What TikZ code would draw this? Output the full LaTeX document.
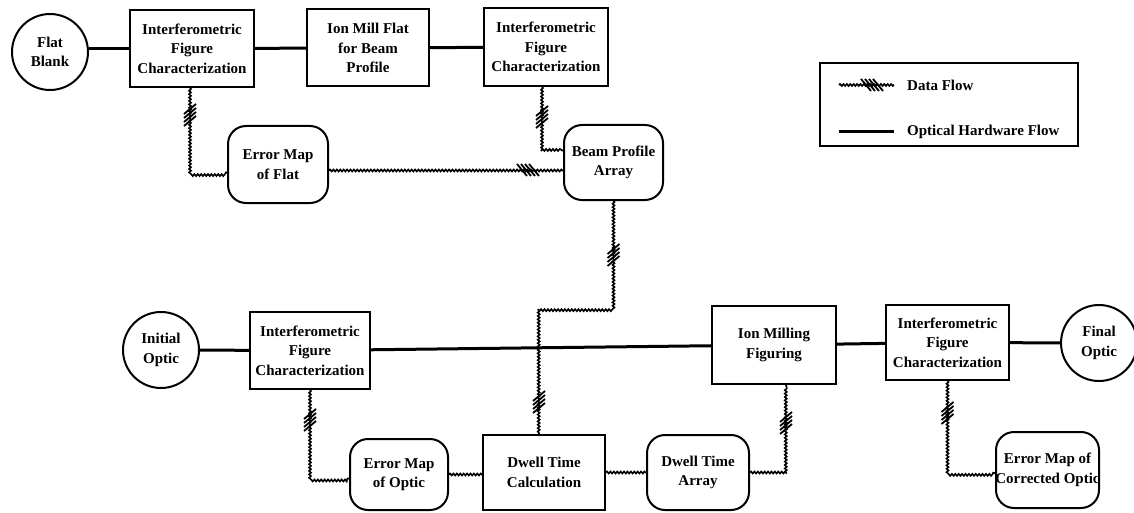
\documentclass[tikz,border=0pt]{standalone}
\usepackage{fontspec}
\setmainfont{Liberation Serif}
\usetikzlibrary{calc,decorations.pathmorphing}
\begin{document}
\begin{tikzpicture}[x=1pt,y=-1pt,
  txt/.style={font=\bfseries\fontsize{15}{19.5}\selectfont, align=center, inner sep=0pt},
  box/.style={draw, line width=2pt, txt, inner sep=2pt},
  rbox/.style={box, rounded corners=18pt},
  disc/.style={draw, circle, line width=2pt, txt, minimum size=76pt},
  hw/.style={line width=3pt},
  data/.style={decorate, decoration={snake, amplitude=1pt, segment length=3.4pt}, line width=1.6pt},
  hashm/.pic={\foreach \o in {-6,-2,2,6} \draw[line width=1.8pt] (-6,\o+5) -- (6,\o-5);}
]
\useasboundingbox (0,0) rectangle (1134,513);
% top row
\node[disc] (fb) at (50,52) {Flat\\Blank};
\node[box, minimum width=124pt, minimum height=77pt] (b1) at (192,48.5) {Interferometric\\Figure\\Characterization};
\node[box, minimum width=122pt, minimum height=77pt] (b2) at (368,48) {Ion Mill Flat\\for Beam\\Profile};
\node[box, minimum width=124pt, minimum height=78pt] (b3) at (546,47) {Interferometric\\Figure\\Characterization};
\node[rbox, minimum width=100pt, minimum height=77pt] (emf) at (278,164.5) {Error Map\\of Flat};
\node[rbox, minimum width=99pt, minimum height=75pt] (bpa) at (613.5,162.5) {Beam Profile\\Array};
% legend
\node[draw, line width=1.6pt, minimum width=258pt, minimum height=83pt] (leg) at (949,104.5) {};
\coordinate (l1a) at (839,85); \coordinate (l1b) at (894,85);
\coordinate (l2a) at (839,132); \coordinate (l2b) at (894,132);
\node[txt, anchor=west] (lt1) at (907,85) {Data Flow};
\node[txt, anchor=west] (lt2) at (907,132) {Optical Hardware Flow};
\draw[data] (l1a) -- (l1b);
\pic[rotate=90] at (872,85) {hashm};
\draw[hw] (l2a) -- (l2b);
% bottom row
\node[disc] (io) at (161,350) {Initial\\Optic};
\node[box, minimum width=120pt, minimum height=77pt] (ifc2) at (310,350.5) {Interferometric\\Figure\\Characterization};
\node[box, minimum width=124pt, minimum height=78pt] (im) at (774,345) {Ion Milling\\Figuring};
\node[box, minimum width=123pt, minimum height=75pt] (ifc3) at (947.5,342.5) {Interferometric\\Figure\\Characterization};
\node[disc] (fo) at (1099,343) {Final\\Optic};
\node[rbox, minimum width=98pt, minimum height=71pt] (emo) at (399,474.5) {Error Map\\of Optic};
\node[box, minimum width=122pt, minimum height=75pt] (dtc) at (544,472.5) {Dwell Time\\Calculation};
\node[rbox, minimum width=102pt, minimum height=75pt] (dta) at (698,472.5) {Dwell Time\\Array};
\node[rbox, minimum width=103pt, minimum height=76pt] (emco) at (1047.5,470) {};
\node[txt] (emcot) at (emco.center) {Error Map of\\Corrected Optic};
% hardware flow
\draw[hw] (fb.5) -- (fb.5 -| b1.west);
\draw[hw] (b1) -- (b2);
\draw[hw] (b2) -- (b3);
\draw[hw] (io) -- (ifc2);
\draw[hw] (ifc2) -- (im);
\draw[hw] (im) -- (ifc3);
\draw[hw] (ifc3) -- (fo);
% data flow
\draw[data] ([xshift=-2pt]b1.south) |- ($(emf.west)+(0,8)$);
\draw[data] ($(emf.east)+(0,6)$) coordinate (t1) -- (t1 -| bpa.west);
\draw[data] ([xshift=-4pt]b3.south) |- ($(bpa.west)+(0,-12)$);
\draw[data] (bpa.south) -- ($(bpa.south)+(0,108)$) -| ([xshift=-5pt]dtc.north);
\draw[data] (ifc2.south) |- ($(emo.west)+(0,4)$);
\draw[data] (emo.east) -- (emo.east -| dtc.west);
\draw[data] (dtc.east) -- (dtc.east -| dta.west);
\draw[data] (dta.east) -| ([xshift=12pt]im.south);
\draw[data] (ifc3.south) |- ($(emco.west)+(0,3)$);
% direction marks
\pic at (190,115) {hashm};
\pic at (542,117) {hashm};
\pic[rotate=90] at (528,170) {hashm};
\pic at (613.5,255) {hashm};
\pic at (539,402) {hashm};
\pic at (310,420) {hashm};
\pic at (786,423) {hashm};
\pic at (947.5,413) {hashm};
\end{tikzpicture}
\end{document}
